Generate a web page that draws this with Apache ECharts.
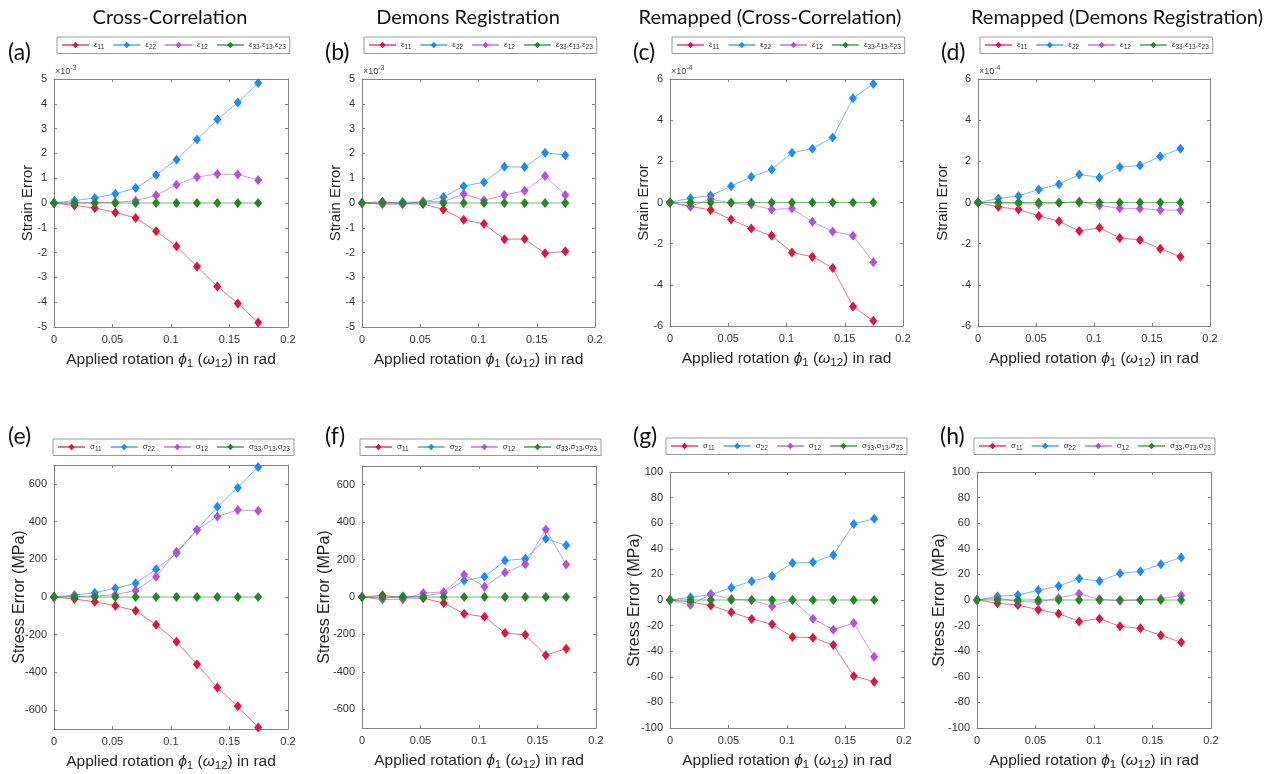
<!DOCTYPE html>
<html>
<head>
<meta charset="utf-8">
<script src="https://cdn.jsdelivr.net/npm/echarts@6/dist/echarts.min.js"></script>
<style>
  html, body { margin: 0; padding: 0; background: #fff; }
  #main { width: 1266px; height: 774px; }
</style>
</head>
<body>
<div id="main"></div>
<script>
// applied rotation (rad), 0..10 deg
const rotX = [0, 0.0175, 0.0349, 0.0524, 0.0698, 0.0873, 0.1047, 0.1222, 0.1396, 0.1571, 0.1745];
const zeroLine = [0, 0, 0, 0, 0, 0, 0, 0, 0, 0, 0];

// (a) cross-correlation strain, x1e-3
const a_e11 = [0, -0.1, -0.2, -0.38, -0.6, -1.14, -1.74, -2.56, -3.37, -4.05, -4.82];
const a_e22 = [0, 0.1, 0.2, 0.37, 0.6, 1.13, 1.74, 2.56, 3.37, 4.05, 4.84];
const a_e12 = [0, 0, 0.01, 0.03, 0.09, 0.31, 0.74, 1.05, 1.17, 1.15, 0.93];
// (b) demons strain, x1e-3
const b_e11 = [0, 0.05, -0.03, -0.04, -0.26, -0.68, -0.84, -1.46, -1.45, -2.03, -1.95];
const b_e22 = [0, -0.02, 0.04, 0.03, 0.24, 0.68, 0.84, 1.46, 1.45, 2.03, 1.93];
const b_e12 = [0, -0.05, -0.05, 0.07, 0.05, 0.36, 0.11, 0.32, 0.49, 1.09, 0.32];
// (c) remapped cross-correlation strain, x1e-4
const c_e11 = [0, -0.19, -0.36, -0.83, -1.26, -1.62, -2.43, -2.63, -3.18, -5.05, -5.75];
const c_e22 = [0, 0.21, 0.34, 0.79, 1.25, 1.6, 2.42, 2.61, 3.16, 5.06, 5.76];
const c_e12 = [0, -0.19, 0.16, -0.02, -0.1, -0.34, -0.29, -0.94, -1.41, -1.61, -2.9];
// (d) remapped demons strain, x1e-4
const d_e11 = [0, -0.21, -0.34, -0.65, -0.91, -1.38, -1.23, -1.72, -1.82, -2.25, -2.63];
const d_e22 = [0, 0.19, 0.32, 0.63, 0.89, 1.36, 1.22, 1.72, 1.8, 2.24, 2.61];
const d_e12 = [0, -0.03, -0.05, -0.08, -0.03, 0.06, -0.15, -0.28, -0.29, -0.37, -0.37];
// (e)-(h) stress error, MPa
const e_s11 = [0, -11, -25, -46, -73, -147, -237, -357, -480, -580, -692];
const e_s22 = [0, 11, 23, 46, 73, 147, 232, 355, 478, 580, 690];
const e_s12 = [0, 2, 5, 12, 35, 108, 240, 356, 427, 462, 458];
const f_s11 = [0, 9, -4, -7, -32, -90, -106, -193, -202, -311, -276];
const f_s22 = [0, -7, 4, 4, 23, 88, 108, 195, 204, 311, 276];
const f_s12 = [0, -14, -12, 21, 27, 119, 55, 131, 175, 361, 173];
const g_s11 = [0, -1.6, -4.2, -9.6, -14.8, -19, -28.9, -29.4, -35.2, -59.4, -63.8];
const g_s22 = [0, 2.1, 4.2, 9.6, 14.6, 18.8, 28.9, 29.4, 35.2, 59.4, 63.5];
const g_s12 = [0, -3.9, 4.7, 0.8, 0, -4.9, 0, -14.6, -23.2, -18, -44.3];
const h_s11 = [0, -2.6, -3.9, -7.6, -10.7, -16.7, -14.6, -20.6, -22.1, -27.6, -33];
const h_s22 = [0, 2.9, 3.9, 7.6, 10.9, 16.7, 14.8, 20.8, 22.4, 27.9, 33.3];
const h_s12 = [0, 1.6, -1.3, -1.6, 1.6, 4.9, 0.5, -0.5, 0, 1, 3.6];

const stressTicksBig = [-600, -400, -200, 0, 200, 400, 600];

const titles = ['Cross-Correlation', 'Demons Registration', 'Remapped (Cross-Correlation)', 'Remapped (Demons Registration)'];
const panelTags = ['(a)', '(b)', '(c)', '(d)', '(e)', '(f)', '(g)', '(h)'];

const strainNames = ['e11', 'e22', 'e12', 'e33'];
const stressNames = ['s11', 's22', 's12', 's33'];
const colors = ['#e0143c', '#1a8cff', '#b84fdc', '#1f8a1f'];
const lineColors = ['rgba(224,20,60,0.6)', 'rgba(26,140,255,0.6)', 'rgba(184,79,220,0.6)', 'rgba(31,138,31,0.6)'];

const legendText = {
  e11: '{g|ε}{s|11}', e22: '{g|ε}{s|22}', e12: '{g|ε}{s|12}',
  e33: '{g|ε}{s|33}{g|,ε}{s|13}{g|,ε}{s|23}',
  s11: '{g|σ}{s|11}', s22: '{g|σ}{s|22}', s12: '{g|σ}{s|12}',
  s33: '{g|σ}{s|33}{g|,σ}{s|13}{g|,σ}{s|23}'
};

const panels = [
  { g: [54, 79, 234, 248], min: -5, max: 5, step: 1, exp: '-3', data: [a_e11, a_e22, a_e12], gap: 19, legend: [57, 37], stress: false },
  { g: [362, 79, 233, 248], min: -5, max: 5, step: 1, exp: '-3', data: [b_e11, b_e22, b_e12], gap: 19, legend: [364, 37], stress: false },
  { g: [670, 79, 233, 247], min: -6, max: 6, step: 2, exp: '-4', data: [c_e11, c_e22, c_e12], gap: 19, legend: [672, 37], stress: false },
  { g: [978, 79, 232, 247], min: -6, max: 6, step: 2, exp: '-4', data: [d_e11, d_e22, d_e12], gap: 28, legend: [980, 37], stress: false },
  { g: [54, 465, 234, 264], min: -700, max: 700, step: null, data: [e_s11, e_s22, e_s12], gap: 26, legend: [53, 439], stress: true },
  { g: [362, 466, 234, 262], min: -700, max: 700, step: null, data: [f_s11, f_s22, f_s12], gap: 29, legend: [360, 439], stress: true },
  { g: [670, 472, 234, 256], min: -100, max: 100, step: 20, data: [g_s11, g_s22, g_s12], gap: 27, legend: [666, 438], stress: true },
  { g: [977, 472, 234, 256], min: -100, max: 100, step: 20, data: [h_s11, h_s22, h_s12], gap: 29, legend: [974, 438], stress: true }
];

const axisGray = '#808080';
const labelColor = '#333';
const baseFont = 'Arial';
const titleFont = 'Lato';

const grid = [], xAxis = [], yAxis = [], series = [], legend = [], graphic = [];

panels.forEach((p, i) => {
  grid.push({ left: p.g[0], top: p.g[1], width: p.g[2], height: p.g[3], show: false });

  const xBase = {
    type: 'value', gridIndex: i, min: 0, max: 0.2, interval: 0.05,
    axisLine: { show: true, onZero: false, lineStyle: { color: axisGray, width: 1 } },
    axisTick: { show: true, inside: true, length: 3, lineStyle: { color: axisGray } },
    splitLine: { show: false }
  };
  xAxis.push(Object.assign({}, xBase, {
    position: 'bottom',
    axisLabel: { color: labelColor, fontSize: 11, margin: 7, fontFamily: baseFont },
    name: 'Applied rotation {i|ϕ}{sub|1} ({i|ω}{sub|12}) in rad',
    nameLocation: 'middle', nameGap: 22, nameMoveOverlap: false,
    nameTextStyle: {
      color: '#262626', fontSize: 15.5, fontFamily: baseFont,
      rich: {
        i: { fontSize: 15.5, fontStyle: 'italic', fontFamily: baseFont, color: '#262626' },
        sub: { fontSize: 11.5, padding: [9, 0, 0, 0], fontFamily: baseFont, color: '#262626' }
      }
    }
  }));
  xAxis.push(Object.assign({}, xBase, { position: 'top', axisLabel: { show: false } }));

  const yBase = {
    type: 'value', gridIndex: i, min: p.min, max: p.max,
    axisLine: { show: true, onZero: false, lineStyle: { color: axisGray, width: 1 } },
    axisTick: { show: true, inside: true, length: 3, lineStyle: { color: axisGray } },
    splitLine: { show: false }
  };
  if (p.step) {
    yBase.interval = p.step;
  } else {
    yBase.axisTick = Object.assign({}, yBase.axisTick, { customValues: stressTicksBig });
  }
  const yLabel = { color: labelColor, fontSize: 11, margin: 7, fontFamily: baseFont };
  if (!p.step) yLabel.customValues = stressTicksBig;
  yAxis.push(Object.assign({}, yBase, {
    position: 'left',
    axisLabel: yLabel,
    name: p.stress ? 'Stress Error (MPa)' : 'Strain Error',
    nameLocation: 'middle', nameGap: p.gap, nameMoveOverlap: false,
    nameTextStyle: { color: '#262626', fontSize: p.stress ? 16 : 15, fontFamily: baseFont }
  }));
  yAxis.push(Object.assign({}, yBase, { position: 'right', axisLabel: { show: false } }));

  const names = p.stress ? stressNames : strainNames;
  const sets = [p.data[0], p.data[1], p.data[2], zeroLine];
  sets.forEach((vals, k) => {
    series.push({
      type: 'line', name: names[k],
      xAxisIndex: 2 * i, yAxisIndex: 2 * i,
      data: vals.map((v, j) => [rotX[j], v]),
      symbol: 'diamond', symbolSize: [8, 10], showSymbol: true,
      itemStyle: { color: colors[k] },
      lineStyle: { color: lineColors[k], width: 1 },
      animation: false, silent: true
    });
  });

  legend.push({
    left: p.legend[0], top: p.legend[1],
    data: names,
    orient: 'horizontal',
    itemWidth: 27, itemHeight: 8, itemGap: 8,
    padding: [4, 4, 3, 4],
    borderColor: '#999', borderWidth: 1, backgroundColor: '#fff',
    selectedMode: false,
    formatter: n => legendText[n],
    textStyle: {
      color: '#333', fontSize: 8, fontFamily: baseFont,
      rich: {
        g: { fontSize: 8, fontFamily: baseFont, color: '#333' },
        s: { fontSize: 6.5, padding: [4, 0, 0, 0], fontFamily: baseFont, color: '#333' }
      }
    }
  });

  if (p.exp) {
    graphic.push({
      type: 'text', left: p.g[0] + 1, top: p.g[1] - 14,
      style: {
        text: '×10{sup|' + p.exp + '}',
        fill: '#444', fontSize: 9, fontFamily: baseFont,
        rich: { sup: { fontSize: 7, padding: [0, 0, 6, 0], fill: '#444', fontFamily: baseFont } }
      }
    });
  }

  graphic.push({
    type: 'text',
    left: i % 4 === 0 ? 8 : p.g[0] - 37,
    top: i < 4 ? 41 : 425,
    style: { text: panelTags[i], fill: '#111', fontSize: 23, fontFamily: titleFont }
  });
});

const titleCenters = [170, 468, 770, 1117];
titles.forEach((t, i) => {
  graphic.push({
    type: 'text', x: titleCenters[i], y: 8,
    style: { text: t, fill: '#111', fontSize: 20, fontFamily: titleFont, align: 'center' }
  });
});

const chart = echarts.init(document.getElementById('main'), null, { renderer: 'canvas' });
chart.setOption({
  backgroundColor: '#fff',
  animation: false,
  grid: grid,
  xAxis: xAxis,
  yAxis: yAxis,
  legend: legend,
  series: series,
  graphic: graphic
});
</script>
</body>
</html>
